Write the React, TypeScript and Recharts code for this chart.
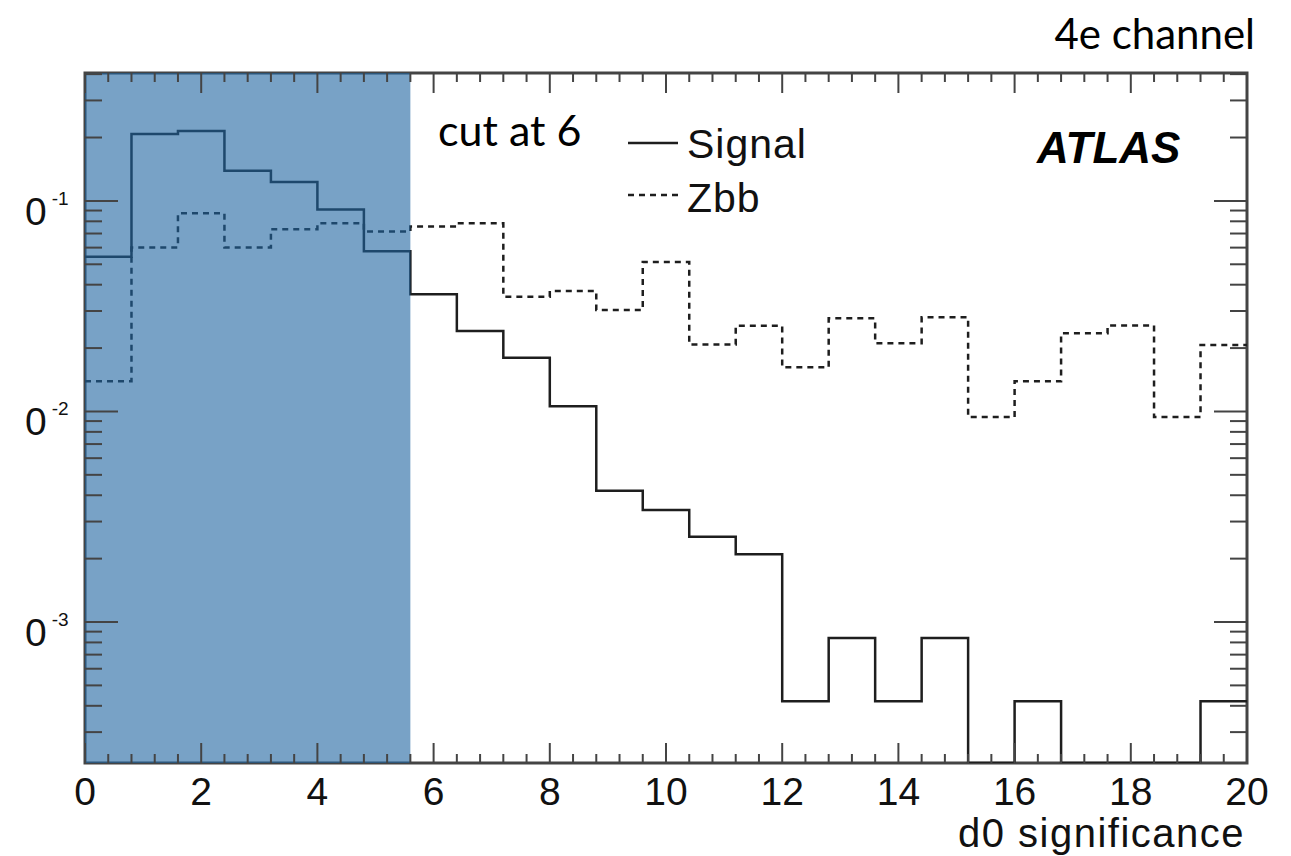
import { LineChart, Line, XAxis, YAxis, ReferenceArea } from "recharts";

// histogram bin edges (d0 significance), 25 bins of 0.8
const BIN_EDGES = [
  0, 0.8, 1.6, 2.4, 3.2, 4.0, 4.8, 5.6, 6.4, 7.2, 8.0, 8.8, 9.6, 10.4, 11.2,
  12.0, 12.8, 13.6, 14.4, 15.2, 16.0, 16.8, 17.6, 18.4, 19.2, 20.0,
];

const SIGNAL = [
  0.0543, 0.208, 0.215, 0.139, 0.123, 0.091, 0.0577, 0.036, 0.0241, 0.018,
  0.0106, 0.0042, 0.0034, 0.00254, 0.0021, 0.00042, 0.00084, 0.00042, 0.00084,
  0, 0.00042, 0, 0, 0, 0.00042,
];

const ZBB = [
  0.0139, 0.06, 0.0873, 0.06, 0.0734, 0.0783, 0.0715, 0.0755, 0.0783, 0.0351,
  0.0373, 0.0303, 0.0512, 0.0208, 0.0255, 0.0162, 0.0277, 0.0211, 0.028,
  0.0094, 0.0139, 0.0235, 0.0256, 0.0094, 0.0207,
];

const X_MAJOR = [0, 2, 4, 6, 8, 10, 12, 14, 16, 18, 20];
const X_TICKS = Array.from({ length: 51 }, (_, i) => Math.round(i * 4) / 10);

const Y_MAJOR = [0.001, 0.01, 0.1];
const Y_LABELS = ["-3", "-2", "-1"];
const Y_MINOR = [
  0.0003, 0.0004, 0.0005, 0.0006, 0.0007, 0.0008, 0.0009,
  0.002, 0.003, 0.004, 0.005, 0.006, 0.007, 0.008, 0.009,
  0.02, 0.03, 0.04, 0.05, 0.06, 0.07, 0.08, 0.09,
  0.2, 0.3, 0.4,
];

const Y_MIN = 0.000214;
const Y_MAX = 0.405;
const CUT = 5.6;

const W = 1283;
const H = 848;
const LEFT = 77;
const RIGHT = 1239;
const TOP = 65;
const BOTTOM = 755;

const SANS = "'Liberation Sans', Arial, Helvetica, sans-serif";
const GILL = "Lato, 'Open Sans', sans-serif";
const FRAME = "#444";

// ROOT draws empty bins at the bottom of the frame
const floor = (v: number) => (v > 0 ? v : Y_MIN);

const data = BIN_EDGES.map((x, i) => {
  const k = Math.min(i, SIGNAL.length - 1);
  return { x, signal: floor(SIGNAL[k]), zbb: floor(ZBB[k]) };
});

function XTick(props: any) {
  const { x, payload } = props;
  const v = payload.value;
  const major = X_MAJOR.some((m) => Math.abs(m - v) < 1e-6);
  const len = major ? 20 : 9;
  return (
    <g>
      <line x1={x} x2={x} y1={BOTTOM} y2={BOTTOM - len} stroke={FRAME} strokeWidth={2} />
      <line x1={x} x2={x} y1={TOP} y2={TOP + len} stroke={FRAME} strokeWidth={2} />
      {major && (
        <text x={x} y={797} textAnchor="middle" fontSize={39} fontFamily={SANS} fill="#111">
          {v}
        </text>
      )}
    </g>
  );
}

function YTick(props: any) {
  const { y, payload } = props;
  const v = payload.value;
  const idx = Y_MAJOR.findIndex((m) => Math.abs(m - v) / m < 1e-6);
  const major = idx >= 0;
  const len = major ? 33 : 17;
  return (
    <g>
      <line x1={LEFT} x2={LEFT + len} y1={y} y2={y} stroke={FRAME} strokeWidth={2} />
      <line x1={RIGHT} x2={RIGHT - len} y1={y} y2={y} stroke={FRAME} strokeWidth={2} />
      {major && (
        <text x={17} y={y + 24} fontSize={39} fontFamily={SANS} fill="#111">
          0
          <tspan dx={5} dy={-20} fontSize={19}>
            {Y_LABELS[idx]}
          </tspan>
        </text>
      )}
    </g>
  );
}

export default function App() {
  return (
    <div style={{ position: "relative", width: W, height: H, background: "#fff" }}>
      <LineChart
        width={W}
        height={H}
        data={data}
        margin={{ top: TOP, right: W - RIGHT, bottom: 0, left: 0 }}
      >
        <XAxis
          dataKey="x"
          type="number"
          domain={[0, 20]}
          ticks={X_TICKS}
          interval={0}
          axisLine={false}
          tickLine={false}
          tick={<XTick />}
          height={H - BOTTOM}
        />
        <YAxis
          type="number"
          scale="log"
          domain={[Y_MIN, Y_MAX]}
          allowDataOverflow
          ticks={[...Y_MINOR, ...Y_MAJOR]}
          interval={0}
          axisLine={false}
          tickLine={false}
          tick={<YTick />}
          width={LEFT}
        />
        <ReferenceArea
          x1={0}
          x2={20}
          y1={Y_MIN}
          y2={Y_MAX}
          fill="none"
          stroke={FRAME}
          strokeWidth={3}
        />
        <Line
          dataKey="zbb"
          type="stepAfter"
          stroke="#1e1e1e"
          strokeWidth={2.5}
          strokeDasharray="6 5"
          dot={false}
          isAnimationActive={false}
        />
        <Line
          dataKey="signal"
          type="stepAfter"
          stroke="#1e1e1e"
          strokeWidth={2.5}
          dot={false}
          isAnimationActive={false}
        />
        <ReferenceArea
          x1={0}
          x2={CUT}
          y1={Y_MIN}
          y2={Y_MAX}
          fill="rgb(30,100,160)"
          fillOpacity={0.6}
          stroke="none"
          zIndex={1600}
        />
      </LineChart>
      <svg
        width={W}
        height={H}
        style={{ position: "absolute", left: 0, top: 0, pointerEvents: "none", overflow: "visible" }}
      >
        <text x={1247} y={41} textAnchor="end" fontSize={42} fontFamily={GILL} fill="#000">
          4e channel
        </text>
        <text x={430} y={138} fontSize={43} fontFamily={GILL} fill="#000">
          cut at 6
        </text>
        <line x1={620} x2={670} y1={135} y2={135} stroke="#1e1e1e" strokeWidth={2.5} />
        <text x={679} y={150} fontSize={41} fontFamily={SANS} letterSpacing={1} fill="#111">
          Signal
        </text>
        <line x1={620} x2={670} y1={187} y2={187} stroke="#1e1e1e" strokeWidth={2.5} strokeDasharray="6 5" />
        <text x={679} y={204} fontSize={41} fontFamily={SANS} letterSpacing={1} fill="#111">
          Zbb
        </text>
        <text
          x={1029}
          y={155}
          fontSize={44}
          fontFamily={SANS}
          fontWeight="bold"
          fontStyle="italic"
          fill="#000"
        >
          ATLAS
        </text>
        <text x={1237} y={839} textAnchor="end" fontSize={40} fontFamily={SANS} letterSpacing={1.5} fill="#111">
          d0 significance
        </text>
      </svg>
    </div>
  );
}
